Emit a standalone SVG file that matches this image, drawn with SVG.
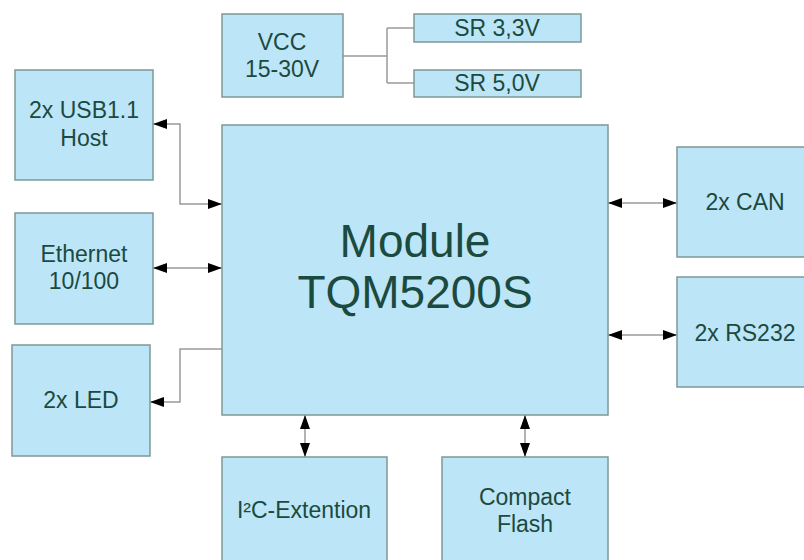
<svg xmlns="http://www.w3.org/2000/svg" width="804" height="560" viewBox="0 0 804 560">
<style>
.box{fill:#bde5f8;stroke:#7d9898;stroke-width:1.5}
.t{font-family:"Liberation Sans",Arial,sans-serif;font-size:23px;fill:#1b4a3e;text-anchor:middle}
.big{font-size:46px}
.c{fill:none;stroke:#9a9a9a;stroke-width:1.5}
</style>
<defs>
<marker id="ah" viewBox="0 0 14 10" refX="14" refY="5" markerWidth="14" markerHeight="10" markerUnits="userSpaceOnUse" orient="auto-start-reverse">
<path d="M0,0 L14,5 L0,10 Z" fill="#000"/>
</marker>
</defs>
<rect width="804" height="560" fill="#fff"/>
<g id="connectors">
<path class="c" d="M343,56 H387 M387,28 V83 M387,28 H414 M387,83 H414"/>
<path class="c" d="M153,124 H180 V204 H222" marker-start="url(#ah)" marker-end="url(#ah)"/>
<path class="c" d="M153,268 H222" marker-start="url(#ah)" marker-end="url(#ah)"/>
<path class="c" d="M222,349 H180 V402 H150" marker-end="url(#ah)"/>
<path class="c" d="M608,203 H677" marker-start="url(#ah)" marker-end="url(#ah)"/>
<path class="c" d="M608,335 H677" marker-start="url(#ah)" marker-end="url(#ah)"/>
<path class="c" d="M305,415 V457" marker-start="url(#ah)" marker-end="url(#ah)"/>
<path class="c" d="M525,415 V457" marker-start="url(#ah)" marker-end="url(#ah)"/>
</g>
<g id="vcc"><rect class="box" x="222" y="14" width="121" height="83"/><text class="t" x="282" y="50">VCC</text><text class="t" x="282" y="77">15-30V</text></g>
<g id="sr33"><rect class="box" x="414" y="14" width="167" height="28"/><text class="t" x="497" y="36">SR 3,3V</text></g>
<g id="sr50"><rect class="box" x="414" y="70" width="167" height="27"/><text class="t" x="497" y="91">SR 5,0V</text></g>
<g id="usb"><rect class="box" x="15" y="70" width="138" height="110"/><text class="t" x="84" y="118">2x USB1.1</text><text class="t" x="84" y="146">Host</text></g>
<g id="ethernet"><rect class="box" x="15" y="213" width="138" height="111"/><text class="t" x="84" y="262">Ethernet</text><text class="t" x="84" y="289">10/100</text></g>
<g id="led"><rect class="box" x="12" y="345" width="138" height="111"/><text class="t" x="81" y="408">2x LED</text></g>
<g id="module"><rect class="box" x="222" y="125" width="386" height="290"/><text class="t big" x="415" y="257">Module</text><text class="t big" x="415" y="308">TQM5200S</text></g>
<g id="can"><rect class="box" x="677" y="147" width="140" height="110"/><text class="t" x="745" y="210">2x CAN</text></g>
<g id="rs232"><rect class="box" x="677" y="277" width="140" height="110"/><text class="t" x="745" y="341">2x RS232</text></g>
<g id="i2c"><rect class="box" x="222" y="457" width="165" height="120"/><text class="t" x="304" y="518">I²C-Extention</text></g>
<g id="cf"><rect class="box" x="442" y="457" width="166" height="120"/><text class="t" x="525" y="505">Compact</text><text class="t" x="525" y="532">Flash</text></g>
</svg>
